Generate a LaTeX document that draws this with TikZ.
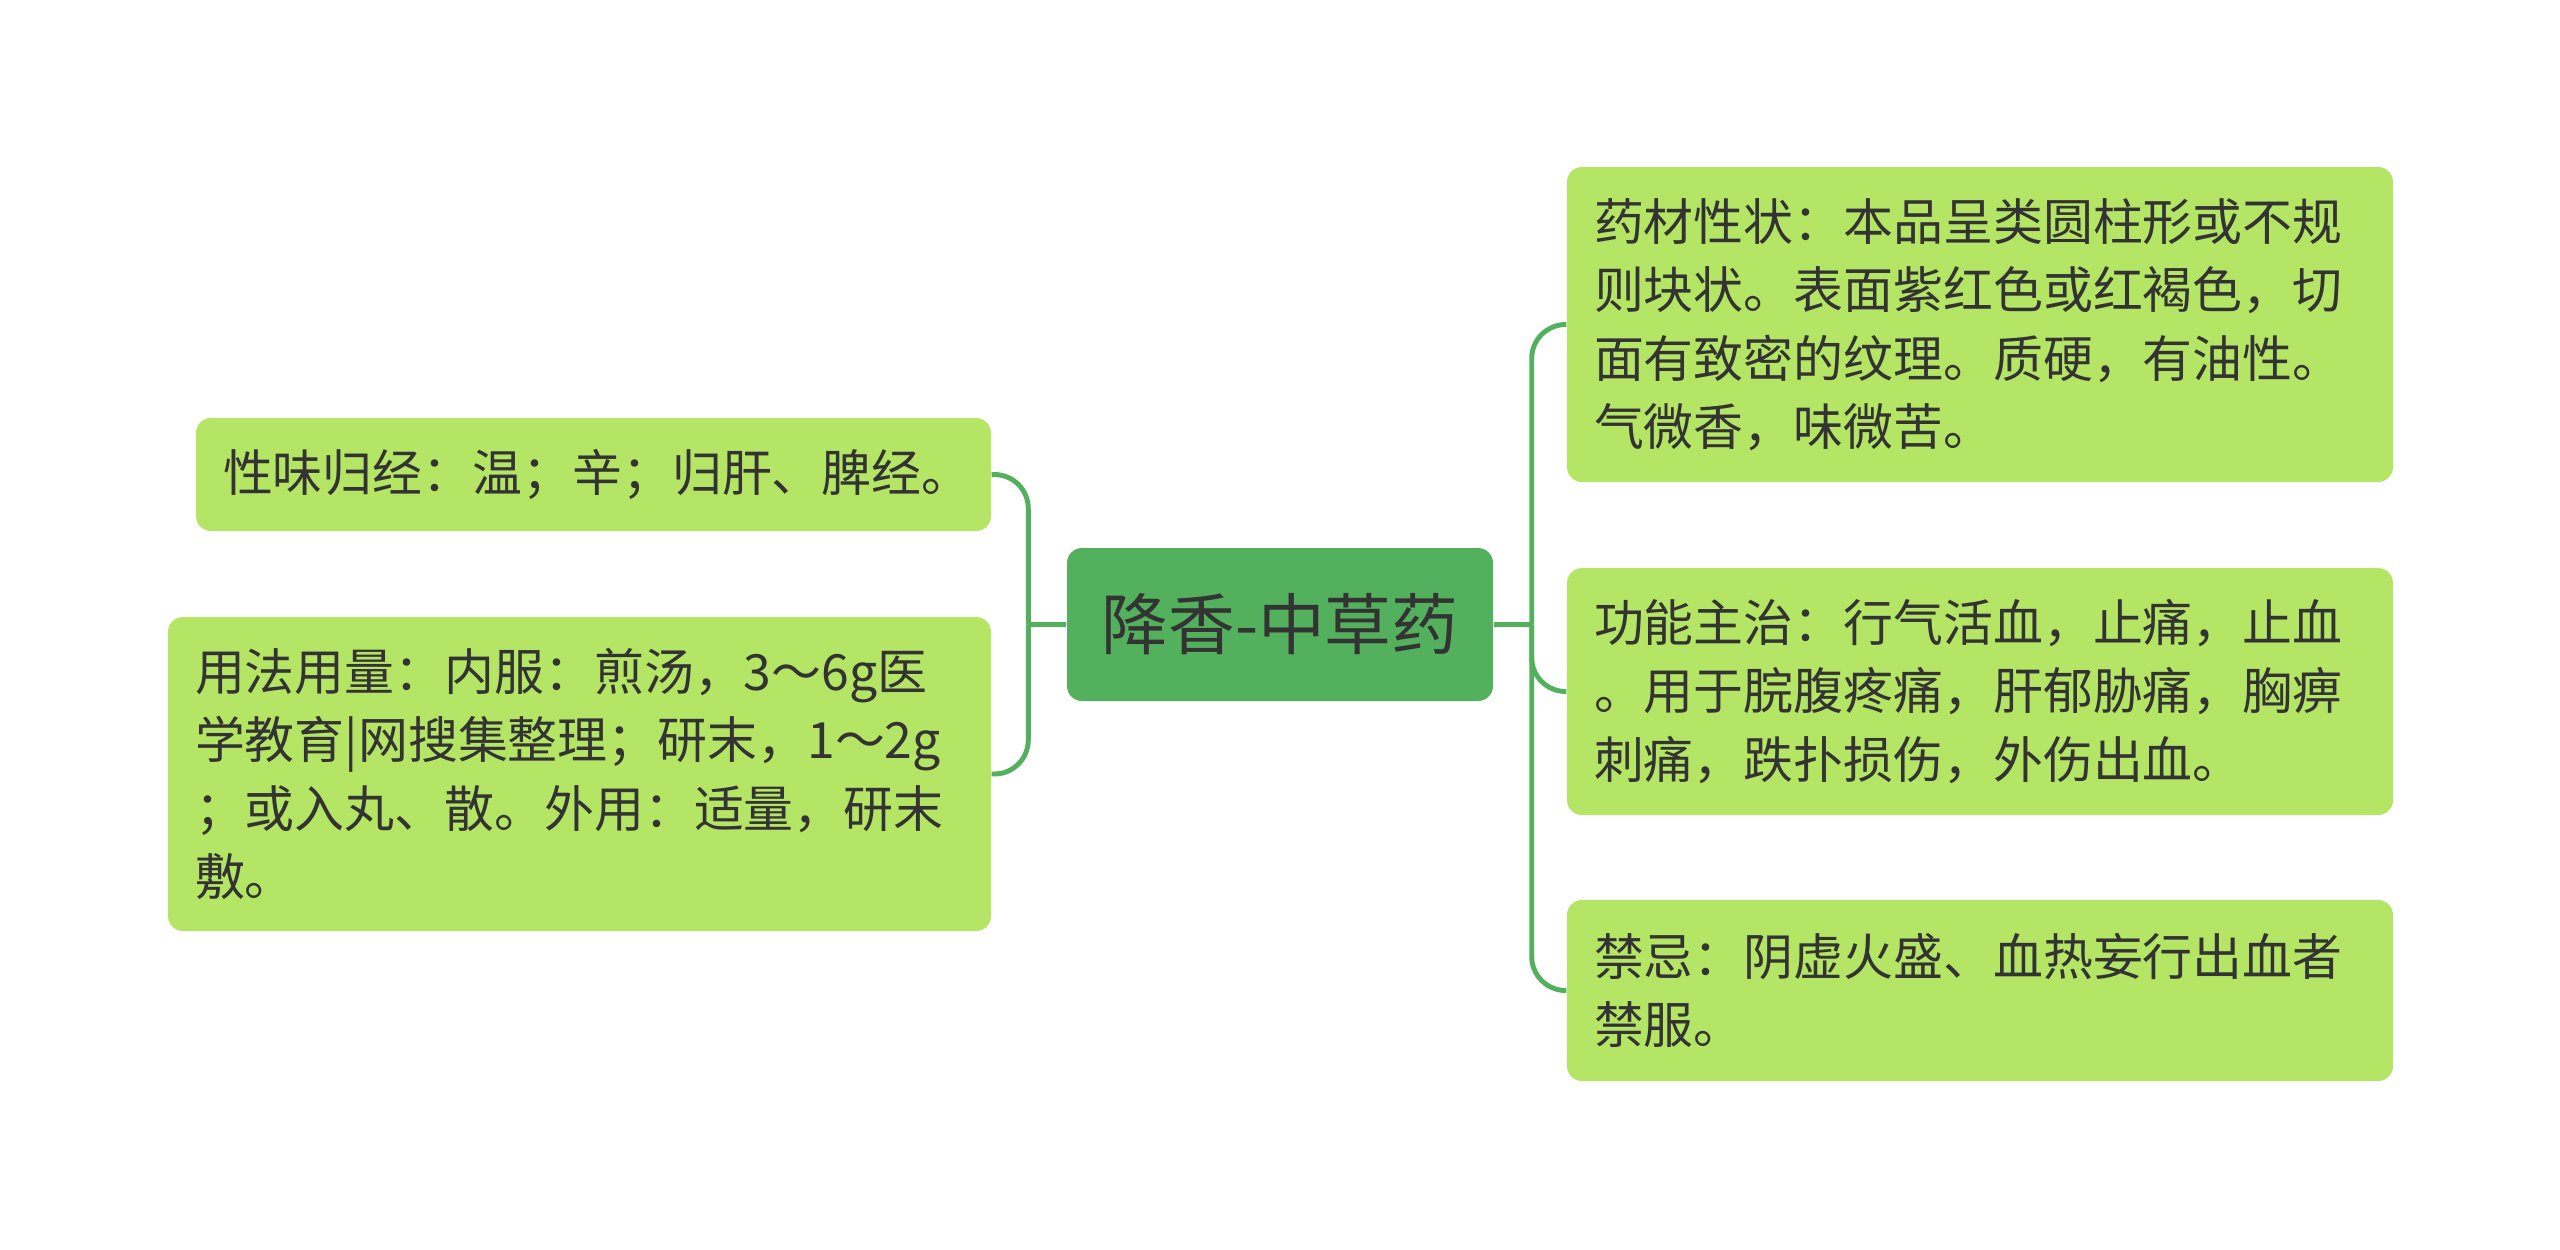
\documentclass[tikz,border=0pt]{standalone}
\usepackage{fontspec}
\newfontfamily\cjkfont{Noto Sans CJK SC}
\definecolor{herbleaf}{HTML}{B4E565}
\definecolor{herbgreen}{HTML}{53B05C}
\definecolor{herbtext}{HTML}{333333}
\usetikzlibrary{positioning}

\begin{document}
\begin{tikzpicture}[font=\cjkfont]
        \tikzset{
            herb/.style={
                fill=herbleaf,
                text=herbtext,
                rounded corners=0.15cm,
                inner xsep=0.27cm,
                inner ysep=0pt,
                align=left,
                font=\cjkfont\fontsize{14.2pt}{19.45pt}\selectfont
            },
            herbleft/.style={herb,text width=7.41cm},
            herbright/.style={herb,text width=7.72cm},
            herbroot/.style={
                fill=herbgreen,
                text=herbtext,
                rounded corners=0.15cm,
                minimum width=4.26cm,
                minimum height=1.53cm,
                font=\cjkfont\fontsize{19pt}{23pt}\selectfont
            },
            herblink/.style={
                draw=herbgreen,
                line width=1.4pt,
                rounded corners=0.34cm
            }
        }
        \useasboundingbox (0,0) rectangle (25.6,-12.49);

        \node[herbroot] (root) at (12.80,-6.245) {降香-中草药};

        \node[herbleft, minimum height=1.13cm] (taste) at (5.935,-4.745)
            {性味归经：温；辛；归肝、脾经。};
        \node[herbleft, text width=7.69cm, minimum height=3.14cm] (dosage) at (5.795,-7.74)
            {用法用量：内服：煎汤，3～6g医\\学教育|网搜集整理；研末，1～2g\\；或入丸、散。外用：适量，研末\\敷。};

        \node[herbright, minimum height=3.15cm] (traits) at (19.80,-3.245)
            {药材性状：本品呈类圆柱形或不规\\则块状。表面紫红色或红褐色，切\\面有致密的纹理。质硬，有油性。\\气微香，味微苦。};
        \node[herbright, minimum height=2.47cm] (usage) at (19.80,-6.915)
            {功能主治：行气活血，止痛，止血\\。用于脘腹疼痛，肝郁胁痛，胸痹\\刺痛，跌扑损伤，外伤出血。};
        \node[herbright, minimum height=1.81cm] (taboo) at (19.80,-9.905)
            {禁忌：阴虚火盛、血热妄行出血者\\禁服。};

        \draw[herblink] (root.west) -- ++(-0.38,0) coordinate (lfork);
        \draw[herblink] (lfork) |- (taste.east);
        \draw[herblink] (lfork) |- (dosage.east);

        \draw[herblink] (root.east) -- ++(0.38,0) coordinate (rfork);
        \draw[herblink] (rfork) |- (traits.west);
        \draw[herblink] (rfork) |- (usage.west);
        \draw[herblink] (rfork) |- (taboo.west);
    \end{tikzpicture}
\end{document}
